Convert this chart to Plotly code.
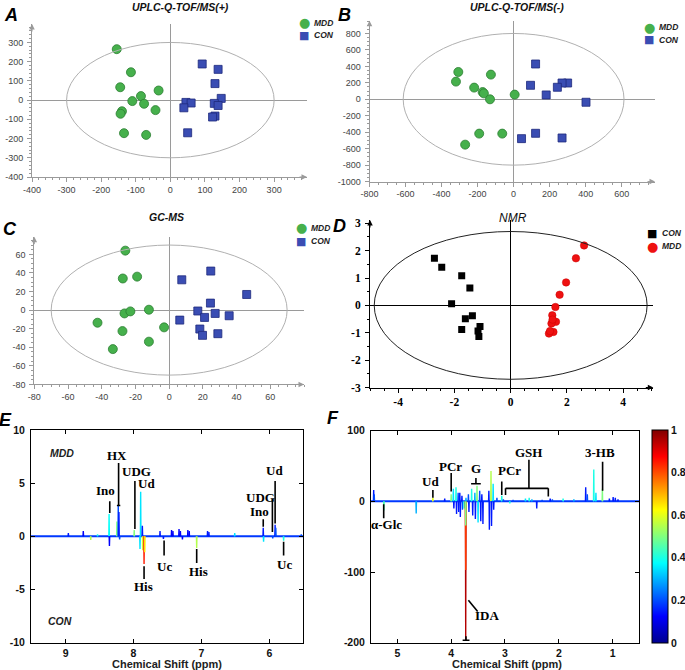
import plotly.graph_objects as go

W, H = 685, 670

# ---------------- DATA ----------------
# Panel A  UPLC-Q-TOF/MS(+)
a_mdd_x = [-155, -114, -145, -85, -34, -110, -76, -43, -140, -144, -134, -70]
a_mdd_y = [265, 145, 67, 21, 50, -5, -19, -52, -58, -71, -172, -181]
a_con_x = [92, 138, 129, 147, 45, 60, 127, 138, 39, 129, 122, 50]
a_con_y = [188, 160, 86, 9, -12, -15, -17, -28, -40, -83, -88, -170]
a_xticks = [-400, -300, -200, -100, 0, 100, 200, 300]
a_yticks = [-400, -300, -200, -100, 0, 100, 200, 300]

# Panel B  UPLC-Q-TOF/MS(-)
b_mdd_x = [-307, -320, -126, -219, -172, -165, -131, 6, -191, -63, -269]
b_mdd_y = [332, 215, 300, 142, 88, 72, 0, 57, -417, -417, -551]
b_con_x = [122, 94, 300, 269, 243, 181, 402, 44, 122, 269]
b_con_y = [429, 170, 198, 198, 146, 53, -36, -478, -413, -470]
b_xticks = [-800, -600, -400, -200, 0, 200, 400, 600]
b_yticks = [-1000, -800, -600, -400, -200, 0, 200, 400, 600, 800]

# Panel C  GC-MS
c_mdd_x = [-26, -27.5, -19, -26.5, -23, -12, -42.5, -27.7, -3, -12, -33.4]
c_mdd_y = [64, 34, 36, -3.6, -1.4, 0.4, -13.6, -22.6, -18.6, -34, -42]
c_con_x = [7.5, 24.7, 46, 24.5, 17, 21, 27.3, 35.6, 6.3, 18.2, 19.8, 28.9]
c_con_y = [32.6, 42, 16.8, 7.5, -1, -7.9, -3.6, -6.1, -10.8, -20.4, -27.2, -25.4]
c_xticks = [-80, -60, -40, -20, 0, 20, 40, 60]
c_yticks = [-80, -60, -40, -20, 0, 20, 40, 60]

# Panel D  NMR
d_con_x = [-2.71, -2.45, -1.74, -1.45, -2.10, -1.61, -1.36, -1.74, -1.09, -1.16, -1.13]
d_con_y = [1.72, 1.39, 1.08, 0.64, 0.06, -0.49, -0.38, -0.88, -0.77, -0.94, -1.14]
d_mdd_x = [2.61, 2.32, 1.97, 1.74, 1.59, 1.48, 1.61, 1.45, 1.49, 1.52, 1.36, 1.40]
d_mdd_y = [2.19, 1.72, 0.84, 0.39, -0.06, -0.36, -0.60, -0.66, -0.52, -0.97, -1.03, -0.94]
d_xticks = [-4, -2, 0, 2, 4]
d_yticks = [-3, -2, -1, 0, 1, 2, 3]

# Panel E  aromatic region loadings (ppm, intensity, |r|)
e_ppm = [8.96, 8.74, 8.63, 8.53, 8.36, 8.355, 8.245, 8.225, 8.215, 8.205, 7.99,
         7.895, 7.905, 7.87, 7.865, 7.845, 7.835, 7.61, 7.56, 7.44, 7.42, 7.33,
         7.31, 7.28, 7.20, 7.18, 7.07, 6.91, 6.89, 6.51, 6.09, 6.085, 5.95,
         5.915, 5.905, 5.79, 5.53]
e_int = [0.3, 0.5, -0.35, 0.2, 2.1, -0.9, 1.4, 2.9, 2.3, -0.3, 0.6,
         4.2, -1.2, 1.0, -1.3, -2.6, -1.5, 0.5, -0.25, 0.6, 0.5, 0.7,
         0.5, -0.3, 0.6, 0.5, -1.1, 0.5, 0.4, 0.3, 0.8, -0.5, -0.2,
         1.1, 0.8, -0.4, 0.2]
e_r = [0.15, 0.12, 0.55, 0.4, 0.38, 0.12, 0.5, 0.2, 0.15, 0.2, 0.5,
       0.35, 0.35, 0.15, 0.58, 0.85, 0.65, 0.15, 0.15, 0.12, 0.12, 0.12,
       0.12, 0.12, 0.12, 0.12, 0.55, 0.15, 0.15, 0.35, 0.15, 0.35, 0.2,
       0.15, 0.2, 0.4, 0.2]
e_xticks = [9, 8, 7, 6]
e_yticks = [-10, -5, 0, 5, 10]

# Panel F  aliphatic region loadings (ppm, intensity, |r|)
f_ppm = [5.44, 5.43, 5.25, 4.65, 4.34, 4.12, 4.00, 3.96, 3.95, 3.91, 3.90, 3.87,
         3.86, 3.84, 3.83, 3.80, 3.79, 3.76, 3.73, 3.73, 3.73, 3.725, 3.68, 3.67,
         3.62, 3.60, 3.56, 3.55, 3.52, 3.50, 3.47, 3.45, 3.43, 3.41, 3.30, 3.29,
         3.26, 3.25, 3.22, 3.21, 3.15, 3.06, 3.03, 2.91, 2.85, 2.62, 2.55, 2.50,
         2.41, 2.31, 2.16, 2.12, 1.92, 1.72, 1.50, 1.47, 1.35, 1.31, 1.19, 1.06,
         0.99, 0.95, 0.90]
f_int = [16, 10, -13, -17, 5, 4, 10, 18, -10, 20, -18, 12,
         -15, 12, -22, 8, -12, -10, -197, -97, -34, 5, 10, -15,
         18, -20, 12, -25, 22, -30, 15, -28, 10, -32, 15, -40,
         43, -35, 25, -12, 5, 8, 3, -3, 2, 4, 5, 3,
         -10, 2, 4, 3, 4, 3, 20, 10, 45, 12, 18, 4,
         6, 5, 3]
f_r = [0.15, 0.2, 0.45, 0.3, 0.6, 0.15, 0.5, 0.35, 0.15, 0.4, 0.15, 0.2,
       0.15, 0.15, 0.15, 0.15, 0.2, 0.4, 0.95, 0.82, 0.5, 0.3, 0.2, 0.15,
       0.4, 0.15, 0.3, 0.15, 0.5, 0.35, 0.2, 0.15, 0.15, 0.15, 0.15, 0.15,
       0.55, 0.15, 0.35, 0.15, 0.2, 0.4, 0.2, 0.4, 0.2, 0.35, 0.4, 0.3,
       0.15, 0.2, 0.15, 0.2, 0.4, 0.3, 0.15, 0.2, 0.4, 0.35, 0.5, 0.15,
       0.15, 0.15, 0.15]
f_xticks = [5, 4, 3, 2, 1]
f_yticks = [-200, -100, 0, 100]
cb_ticks = [0, 0.2, 0.4, 0.6, 0.8, 1]

# metabolite labels: (text, ppm, y)
e_labels = [("Ino", 8.41, 4.3), ("HX", 8.25, 7.6), ("UDG", 7.955, 6.1), ("Ud", 7.81, 5.0),
            ("His", 7.85, -4.7), ("Uc", 7.55, -2.8), ("His", 7.05, -3.3),
            ("Ud", 5.93, 6.2), ("UDG", 6.13, 3.7), ("Ino", 6.14, 2.3), ("Uc", 5.77, -2.6)]
f_labels = [("Ud", 4.38, 28), ("PCr", 4.01, 50), ("G", 3.54, 47), ("PCr", 2.91, 44),
            ("GSH", 2.555, 69), ("3-HB", 1.235, 69), ("α-Glc", 5.2, -33), ("IDA", 3.33, -161)]


# ---------------- helpers ----------------
def px(x):
    return x / W


def py(y):
    return 1 - y / H


JET = [[0.0, '#00008F'], [0.125, '#0000FF'], [0.375, '#00FFFF'],
       [0.625, '#FFFF00'], [0.875, '#FF0000'], [1.0, '#800000']]


def jet(v):
    stops = [(0, (0, 0, 143)), (0.125, (0, 0, 255)), (0.375, (0, 255, 255)),
             (0.625, (255, 255, 0)), (0.875, (255, 0, 0)), (1, (128, 0, 0))]
    for (a, ca), (b, cb) in zip(stops, stops[1:]):
        if v <= b:
            t = (v - a) / (b - a)
            return 'rgb(%d,%d,%d)' % tuple(round(ca[i] + (cb[i] - ca[i]) * t) for i in range(3))
    return 'rgb(128,0,0)'


fig = go.Figure()

GREEN_C, GREEN_E = '#46b04c', '#2b7d31'
BLUE_C, BLUE_E = '#3a4db3', '#1e2a7c'
GREEN = dict(symbol='circle', size=9, color=GREEN_C, line=dict(color=GREEN_E, width=0.8))
BLUE = dict(symbol='square', size=8, color=BLUE_C, line=dict(color=BLUE_E, width=0.8))


def add_scores(mx, my, cx, cy, xa, ya):
    fig.add_trace(go.Scatter(x=mx, y=my, mode='markers', marker=GREEN, name='MDD',
                             xaxis=xa, yaxis=ya, showlegend=False))
    fig.add_trace(go.Scatter(x=cx, y=cy, mode='markers', marker=BLUE, name='CON',
                             xaxis=xa, yaxis=ya, showlegend=False))


add_scores(a_mdd_x, a_mdd_y, a_con_x, a_con_y, 'x', 'y')
add_scores(b_mdd_x, b_mdd_y, b_con_x, b_con_y, 'x2', 'y2')
add_scores(c_mdd_x, c_mdd_y, c_con_x, c_con_y, 'x3', 'y3')

fig.add_trace(go.Scatter(x=d_con_x, y=d_con_y, mode='markers', name='CON',
                         marker=dict(symbol='square', size=7, color='black'),
                         xaxis='x4', yaxis='y4', showlegend=False))
fig.add_trace(go.Scatter(x=d_mdd_x, y=d_mdd_y, mode='markers', name='MDD',
                         marker=dict(symbol='circle', size=7.5, color='#ee1111',
                                     line=dict(color='#cc0000', width=0.5)),
                         xaxis='x4', yaxis='y4', showlegend=False))


def add_spectrum(ppm, inten, rr, xa, ya, lo, hi, w):
    fig.add_trace(go.Scatter(x=[hi, lo], y=[0, 0], mode='lines',
                             line=dict(color=jet(0.18), width=2),
                             xaxis=xa, yaxis=ya, showlegend=False, hoverinfo='skip'))
    for p, h, r in zip(ppm, inten, rr):
        fig.add_trace(go.Scatter(x=[p + w, p, p - w], y=[0, h, 0], mode='lines',
                                 line=dict(color=jet(r), width=1.4),
                                 xaxis=xa, yaxis=ya, showlegend=False, hoverinfo='skip'))


add_spectrum(e_ppm, e_int, e_r, 'x5', 'y5', 5.5, 9.51, 0.004)
add_spectrum(f_ppm, f_int, f_r, 'x6', 'y6', 0.504, 5.49, 0.005)

# colorbar
cb = dict(x=px(652.3), xanchor='left', xpad=0, ypad=0,
          y=py(643), yanchor='bottom', len=(643 - 430.5) / H,
          lenmode='fraction', thickness=16, outlinecolor='black', outlinewidth=1,
          tickvals=cb_ticks, ticktext=['0', '0.2', '0.4', '0.6', '0.8', '1'],
          ticks='', ticklen=0, tickfont=dict(family='Arial', size=10.5, color='#111', weight='bold'))
fig.add_trace(go.Scatter(x=[None], y=[None], mode='markers', xaxis='x6', yaxis='y6', showlegend=False,
                         marker=dict(color=[0], cmin=0, cmax=1, colorscale=JET, showscale=True,
                                     colorbar=cb)))

# ---------------- axes ----------------
GREY = '#9a9a9a'
tf_small = dict(family='Arial', size=9, color='#444')


def score_axes(n, xdom, ydom, xr, yr, xt, yt, xmin, ymin, col, font, lw=1):
    xa = dict(domain=xdom, range=xr, anchor='y' + n, showline=True, linecolor=col, linewidth=lw,
              ticks='outside', ticklen=4, tickcolor=col, tickvals=xt, ticktext=[str(v) for v in xt],
              tickfont=font, zeroline=True, zerolinecolor=col, zerolinewidth=lw, showgrid=False,
              fixedrange=True, minor=dict(ticks='outside', ticklen=2, dtick=xmin, tickcolor=col, showgrid=False))
    ya = dict(domain=ydom, range=yr, anchor='x' + n, showline=True, linecolor=col, linewidth=lw,
              ticks='outside', ticklen=4, tickcolor=col, tickvals=yt, ticktext=[str(v) for v in yt],
              tickfont=font, zeroline=True, zerolinecolor=col, zerolinewidth=lw, showgrid=False,
              fixedrange=True, ticklabelstandoff=2,
              minor=dict(ticks='outside', ticklen=2, dtick=ymin, tickcolor=col, showgrid=False))
    return xa, ya


xa1, ya1 = score_axes('', [px(32), px(307)], [py(177), py(24)], [-400, 395], [-400, 396],
                      a_xticks, a_yticks, 20, 20, GREY, tf_small)
xa2, ya2 = score_axes('2', [px(369.5), px(655)], [py(181.6), py(20.7)], [-800, 785], [-1000, 955],
                      b_xticks, b_yticks, 50, 50, GREY, tf_small)
xa3, ya3 = score_axes('3', [px(34.3), px(304)], [py(384.4), py(236.7)], [-80, 80], [-80, 79],
                      c_xticks, c_yticks, 5, 5, GREY, tf_small)
xa4, ya4 = score_axes('4', [px(370), px(653.3)], [py(387.5), py(220)], [-5, 5.07], [-3, 3.12],
                      d_xticks, d_yticks, 0.5, 0.5, 'black',
                      dict(family='Liberation Serif', size=11.5, color='black', weight='bold'))


def spec_axes(n, xdom, ydom, xr, yr, xt, yt):
    common = dict(showline=True, mirror='ticks', linecolor='black', linewidth=1, ticks='inside',
                  ticklen=4, tickcolor='black', zeroline=False, showgrid=False, fixedrange=True,
                  tickfont=dict(family='Arial', size=10.5, color='#111', weight='bold'))
    xa = dict(domain=xdom, range=xr, anchor='y' + n, tickvals=xt, ticktext=[str(v) for v in xt],
              ticklabelstandoff=1, **common)
    ya = dict(domain=ydom, range=yr, anchor='x' + n, tickvals=yt, ticktext=[str(v) for v in yt],
              ticklabelstandoff=3, **common)
    return xa, ya


xa5, ya5 = spec_axes('5', [px(31), px(303.3)], [py(642.7), py(430)], [9.51, 5.5], [-10, 10], e_xticks, e_yticks)
xa6, ya6 = spec_axes('6', [px(371), px(639.3)], [py(642.7), py(430.7)], [5.49, 0.504], [-200, 100], f_xticks, f_yticks)

shapes = []
# confidence ellipses
shapes.append(dict(type='circle', xref='x', yref='y', x0=-300, x1=300, y0=-300, y1=300,
                   line=dict(color='#b0b0b0', width=1)))
shapes.append(dict(type='circle', xref='x2', yref='y2', x0=-613, x1=613, y0=-800, y1=800,
                   line=dict(color='#b0b0b0', width=1)))
shapes.append(dict(type='circle', xref='x3', yref='y3', x0=-70, x1=70, y0=-70, y1=70,
                   line=dict(color='#b0b0b0', width=1)))
shapes.append(dict(type='circle', xref='x4', yref='y4', x0=-4.85, x1=4.85, y0=-2.7, y1=2.7,
                   line=dict(color='#222', width=1)))


def seg(xr, yr, x0, y0, x1, y1):
    shapes.append(dict(type='line', xref=xr, yref=yr, x0=x0, y0=y0, x1=x1, y1=y1,
                       line=dict(color='black', width=1.6)))


# E label leader lines
seg('x5', 'y5', 8.35, 2.2, 8.35, 3.3)
seg('x5', 'y5', 8.22, 2.9, 8.22, 6.9)
seg('x5', 'y5', 8.245, 2.9, 8.195, 2.9)
seg('x5', 'y5', 7.98, 0.7, 7.98, 5.2)
seg('x5', 'y5', 7.845, -2.8, 7.845, -4.0)
seg('x5', 'y5', 7.55, -0.4, 7.55, -1.8)
seg('x5', 'y5', 7.07, -1.2, 7.07, -2.5)
seg('x5', 'y5', 5.915, 1.2, 5.915, 5.2)
seg('x5', 'y5', 5.955, 0.4, 5.955, 3.5)
seg('x5', 'y5', 6.09, 0.9, 6.09, 1.6)
seg('x5', 'y5', 5.79, -0.5, 5.79, -1.8)
# F label leader lines
seg('x6', 'y6', 4.34, 5, 4.34, 16)
seg('x6', 'y6', 4.00, 14, 4.00, 40)
seg('x6', 'y6', 3.54, 25, 3.54, 33)
seg('x6', 'y6', 3.63, 25, 3.45, 25)
seg('x6', 'y6', 3.06, 9, 3.06, 28)
seg('x6', 'y6', 2.99, 18.4, 2.195, 18.4)
seg('x6', 'y6', 2.99, 18.4, 2.99, 9)
seg('x6', 'y6', 2.195, 18.4, 2.195, 7)
seg('x6', 'y6', 2.555, 18.4, 2.555, 59)
seg('x6', 'y6', 1.186, 15, 1.186, 56)
seg('x6', 'y6', 5.254, -4, 5.254, -24)
seg('x6', 'y6', 3.68, -140, 3.508, -156)
seg('x6', 'y6', 3.787, -196.5, 3.66, -196.5)
seg('x6', 'y6', 3.725, -196.5, 3.725, -191)

ann = []


def ptext(t, x, y, font, xanchor='center'):
    ann.append(dict(text=t, x=px(x), y=py(y), xref='paper', yref='paper', showarrow=False,
                    xanchor=xanchor, yanchor='middle', font=font))


# panel letters
for t, x, y in [("A", 11, 15.5), ("B", 344, 15), ("C", 10, 229), ("D", 339, 226), ("E", 5, 420), ("F", 333, 418)]:
    ptext(t, x, y, dict(family='Arial', size=18, color='black', style='italic', weight='bold'))
# titles
for t, x, y in [("UPLC-Q-TOF/MS(+)", 180, 7.5), ("UPLC-Q-TOF/MS(-)", 516.7, 7.5), ("GC-MS", 166.7, 217)]:
    ptext(t, x, y, dict(family='Arial', size=10.5, color='#111', style='italic', weight='bold'))
ptext("NMR", 513.3, 218.3, dict(family='Arial', size=12, color='#111', style='italic'))

# legends (glyph keys + labels)
leg_font = dict(family='Arial', size=8.5, color='#222', style='italic', weight='bold')
legend_rows = [  # key glyph, colour, size, key x, label, y
    ('●', GREEN_C, 13, 304, 'MDD', 23), ('■', BLUE_C, 11, 304, 'CON', 35),
    ('●', GREEN_C, 13, 649, 'MDD', 27), ('■', BLUE_C, 11, 649, 'CON', 40),
    ('●', GREEN_C, 13, 301, 'MDD', 228), ('■', BLUE_C, 11, 301, 'CON', 241),
    ('■', 'black', 11, 652, 'CON', 233), ('●', '#ee1111', 13, 652, 'MDD', 246),
]
for g, c, s, kx, lab, y in legend_rows:
    ptext(g, kx, y, dict(family='DejaVu Sans', size=s, color=c))
    ptext(lab, kx + 8, y, leg_font, xanchor='left')

# axis arrows
for xa, ya, col in [('x', 'y', GREY), ('x2', 'y2', GREY), ('x3', 'y3', GREY), ('x4', 'y4', 'black')]:
    ann.append(dict(text='', xref=xa + ' domain', yref=ya + ' domain', x=1, y=0, ax=-9, ay=0,
                    showarrow=True, arrowhead=2, arrowsize=1.1, arrowwidth=1, arrowcolor=col))
    ann.append(dict(text='', xref=xa + ' domain', yref=ya + ' domain', x=0, y=1, ax=0, ay=9,
                    showarrow=True, arrowhead=2, arrowsize=1.1, arrowwidth=1, arrowcolor=col))
# spectrum labels
lab_font = dict(family='Liberation Serif', size=13, color='black', weight='bold')
for t, x, y in e_labels:
    ann.append(dict(text=t, x=x, y=y, xref='x5', yref='y5', showarrow=False, font=lab_font))
for t, x, y in f_labels:
    ann.append(dict(text=t, x=x, y=y, xref='x6', yref='y6', showarrow=False, font=lab_font))
ann.append(dict(text="MDD", x=9.06, y=7.8, xref='x5', yref='y5', showarrow=False,
                font=dict(family='Arial', size=10.5, color='#222', style='italic', weight='bold')))
ann.append(dict(text="CON", x=9.09, y=-8.0, xref='x5', yref='y5', showarrow=False,
                font=dict(family='Arial', size=10.5, color='#222', style='italic', weight='bold')))
# x-axis titles
for x in (167, 506.7):
    ptext("Chemical Shift (ppm)", x, 663.5, dict(family='Arial', size=11, color='#222', weight='bold'))

fig.update_layout(
    width=W, height=H, margin=dict(l=0, r=0, t=0, b=0, autoexpand=False),
    paper_bgcolor='white', plot_bgcolor='white',
    xaxis=xa1, yaxis=ya1, xaxis2=xa2, yaxis2=ya2, xaxis3=xa3, yaxis3=ya3,
    xaxis4=xa4, yaxis4=ya4, xaxis5=xa5, yaxis5=ya5, xaxis6=xa6, yaxis6=ya6,
    shapes=shapes, annotations=ann, showlegend=False,
)

fig.write_html("out.html", config={'displayModeBar': False},
               post_script="document.body.style.margin='0';document.body.style.padding='0';"
                           "document.body.style.overflow='hidden';")
